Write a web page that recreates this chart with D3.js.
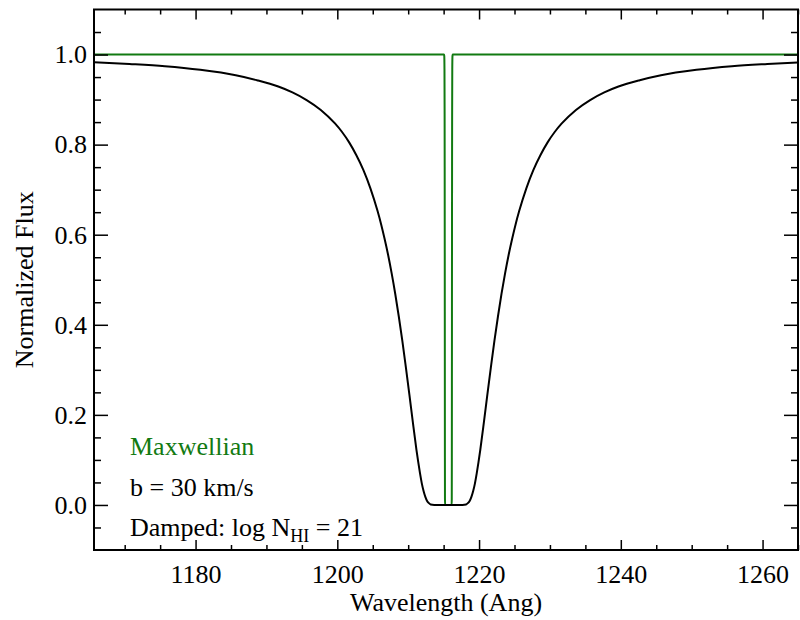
<!DOCTYPE html>
<html lang="en">
<head>
<meta charset="UTF-8">
<title>Lyman alpha: damped vs Maxwellian</title>
<script src="https://cdn.jsdelivr.net/npm/d3@7"></script>
<style>
    body { margin: 0; background: #fff; }
    svg text { font-family: "Liberation Serif", "Times New Roman", Times, "DejaVu Serif", "Noto Serif", serif; }
    .axis path { display: none; }
    .axis line { stroke: #000; stroke-width: 1.5; }
    .axis text { font-size: 26px; fill: #000; }
</style>
</head>
<body>
<svg id="chart" width="800" height="620"></svg>
<script>
// damped (Voigt) profile, log N_HI = 21
const blackWave = [1165.67, 1170.67, 1175.67, 1180.67, 1185.67, 1188.67, 1191.67, 1193.67, 1195.67, 1197.67,
    1199.67, 1200.67, 1201.67, 1202.67, 1203.67, 1204.67, 1205.67, 1206.17, 1206.67, 1207.17,
    1207.67, 1208.17, 1208.67, 1209.17, 1209.67, 1210.17, 1210.67, 1211.17, 1211.42, 1211.67,
    1211.92, 1212.17, 1212.42, 1212.67, 1212.92, 1213.17, 1213.67, 1214.67, 1215.67,
    1216.67, 1217.67, 1218.17, 1218.42, 1218.67, 1218.92, 1219.17, 1219.42, 1219.67, 1219.92,
    1220.17, 1220.67, 1221.17, 1221.67, 1222.17, 1222.67, 1223.17, 1223.67, 1224.17, 1224.67,
    1225.17, 1225.67, 1226.67, 1227.67, 1228.67, 1229.67, 1230.67, 1231.67, 1233.67, 1235.67,
    1237.67, 1239.67, 1242.67, 1245.67, 1250.67, 1255.67, 1260.67, 1265.67];
const blackFlux = [0.983, 0.979, 0.974, 0.966, 0.954, 0.943, 0.929, 0.916, 0.899, 0.877,
    0.847, 0.828, 0.805, 0.777, 0.744, 0.703, 0.653, 0.624, 0.591, 0.555,
    0.514, 0.469, 0.419, 0.365, 0.306, 0.245, 0.182, 0.122, 0.095, 0.070,
    0.048, 0.031, 0.018, 0.009, 0.004, 0.001, 0.000, 0.000, 0.000,
    0.000, 0.000, 0.001, 0.004, 0.009, 0.018, 0.031, 0.048, 0.070, 0.095,
    0.122, 0.182, 0.245, 0.306, 0.365, 0.419, 0.469, 0.514, 0.555, 0.591,
    0.624, 0.653, 0.703, 0.744, 0.777, 0.805, 0.828, 0.847, 0.877, 0.899,
    0.916, 0.929, 0.943, 0.954, 0.966, 0.974, 0.979, 0.983];

// Maxwellian (gaussian) profile, b = 30 km/s
const greenWave = [1165.67, 1215.05, 1215.09, 1215.12, 1215.14, 1215.15, 1215.16, 1215.17, 1215.18, 1215.19, 1215.21,
    1216.13, 1216.15, 1216.16, 1216.17, 1216.18, 1216.19, 1216.20, 1216.22, 1216.25, 1216.29, 1265.67];
const greenFlux = [1.000, 1.000, 0.997, 0.968, 0.868, 0.750, 0.560, 0.319, 0.106, 0.013, 0.000,
    0.000, 0.013, 0.106, 0.319, 0.560, 0.750, 0.868, 0.968, 0.997, 1.000, 1.000];

const xMajor = [1180, 1200, 1220, 1240, 1260];
const xMinor = [1170, 1175, 1185, 1190, 1195, 1205, 1210, 1215, 1225, 1230, 1235, 1245, 1250, 1255, 1265];
const yMajor = [0.0, 0.2, 0.4, 0.6, 0.8, 1.0];
const yMinor = [-0.05, 0.05, 0.1, 0.15, 0.25, 0.3, 0.35, 0.45, 0.5, 0.55, 0.65, 0.7, 0.75, 0.85, 0.9, 0.95, 1.05];

const green = "#127a12";
const serif = '"Liberation Serif", "Times New Roman", Times, "DejaVu Serif", "Noto Serif", serif';
const svg = d3.select("#chart");
const mLeft = 94, mRight = 798, mTop = 9.5, mBottom = 550;

const x = d3.scaleLinear().domain([1165.67, 1265]).range([mLeft, mRight]);
const y = d3.scaleLinear().domain([-0.1, 1.1]).range([mBottom, mTop]);

svg.append("rect").attr("width", 800).attr("height", 620).attr("fill", "#fff");

svg.append("clipPath").attr("id", "plotClip")
    .append("rect").attr("x", mLeft).attr("y", mTop)
    .attr("width", mRight - mLeft).attr("height", mBottom - mTop);

const line = d3.line()
    .x(d => x(d[0]))
    .y(d => y(d[1]))
    .curve(d3.curveMonotoneX);

const plot = svg.append("g").attr("clip-path", "url(#plotClip)");

plot.append("path")
    .datum(d3.zip(greenWave, greenFlux))
    .attr("d", line)
    .attr("fill", "none")
    .attr("stroke", green)
    .attr("stroke-width", 2);

plot.append("path")
    .datum(d3.zip(blackWave, blackFlux))
    .attr("d", line)
    .attr("fill", "none")
    .attr("stroke", "#000")
    .attr("stroke-width", 2);

// ticks on all four sides, pointing inward
svg.append("g").attr("class", "axis")
    .attr("transform", `translate(0,${mBottom})`)
    .call(d3.axisBottom(x).tickValues(xMajor).tickSize(-10).tickPadding(15).tickFormat(d3.format("d")));
svg.append("g").attr("class", "axis")
    .attr("transform", `translate(0,${mBottom})`)
    .call(d3.axisBottom(x).tickValues(xMinor).tickSize(-5).tickFormat(""));
svg.append("g").attr("class", "axis")
    .attr("transform", `translate(0,${mTop})`)
    .call(d3.axisTop(x).tickValues(xMajor).tickSize(-10).tickFormat(""));
svg.append("g").attr("class", "axis")
    .attr("transform", `translate(0,${mTop})`)
    .call(d3.axisTop(x).tickValues(xMinor).tickSize(-5).tickFormat(""));

svg.append("g").attr("class", "axis")
    .attr("transform", `translate(${mLeft},0)`)
    .call(d3.axisLeft(y).tickValues(yMajor).tickSize(-14).tickPadding(7).tickFormat(d3.format(".1f")));
svg.append("g").attr("class", "axis")
    .attr("transform", `translate(${mLeft},0)`)
    .call(d3.axisLeft(y).tickValues(yMinor).tickSize(-7).tickFormat(""));
svg.append("g").attr("class", "axis")
    .attr("transform", `translate(${mRight},0)`)
    .call(d3.axisRight(y).tickValues(yMajor).tickSize(-14).tickFormat(""));
svg.append("g").attr("class", "axis")
    .attr("transform", `translate(${mRight},0)`)
    .call(d3.axisRight(y).tickValues(yMinor).tickSize(-7).tickFormat(""));

svg.selectAll(".axis").attr("font-family", serif);

// frame
svg.append("rect")
    .attr("x", mLeft).attr("y", mTop)
    .attr("width", mRight - mLeft).attr("height", mBottom - mTop)
    .attr("fill", "none").attr("stroke", "#000").attr("stroke-width", 2);

// axis titles
svg.append("text")
    .attr("x", (mLeft + mRight) / 2).attr("y", 611)
    .attr("text-anchor", "middle").attr("font-size", 26)
    .text("Wavelength (Ang)");

svg.append("text")
    .attr("transform", `translate(33,${(mTop + mBottom) / 2}) rotate(-90)`)
    .attr("text-anchor", "middle").attr("font-size", 26)
    .text("Normalized Flux");

// annotations
svg.append("text")
    .attr("x", 130).attr("y", 455).attr("font-size", 26).attr("fill", green)
    .text("Maxwellian");
svg.append("text")
    .attr("x", 130).attr("y", 496).attr("font-size", 26)
    .text("b = 30 km/s");
const damped = svg.append("text")
    .attr("x", 130).attr("y", 536).attr("font-size", 26);
damped.append("tspan").text("Damped: log N");
damped.append("tspan").attr("font-size", 18).attr("dy", 6).text("HI");
damped.append("tspan").attr("dy", -6).text(" = 21");

svg.selectAll("text").attr("font-family", serif);
</script>
</body>
</html>
